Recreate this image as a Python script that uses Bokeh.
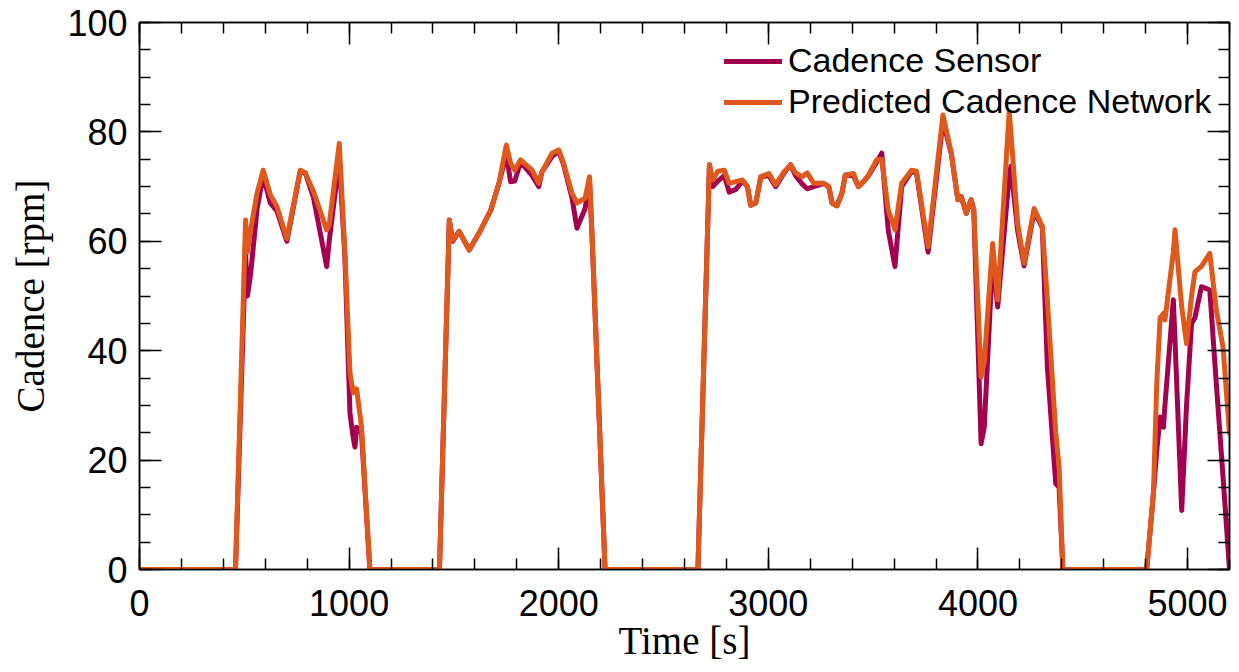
from bokeh.plotting import figure
from bokeh.models import (Range1d, LinearAxis, FixedTicker, Legend, LegendItem,
                          CustomJSTickFormatter)
from bokeh.embed import file_html
from bokeh.resources import INLINE

# ---- data ----
time_s = [0, 458, 506, 515, 530, 561, 590, 624, 656, 703, 767, 791, 830, 893, 905, 953,
          980, 1004, 1020, 1028, 1036, 1059, 1099,
          1431, 1478, 1494, 1525, 1573, 1620, 1676, 1715, 1750, 1770, 1790, 1818, 1873,
          1905, 1920, 1968, 2000, 2023, 2063, 2087, 2126, 2147, 2160, 2221,
          2664, 2719, 2735, 2759, 2790, 2813, 2845, 2877, 2900, 2916, 2940, 2964, 3003,
          3035, 3075, 3106, 3130, 3161, 3185, 3217, 3264, 3288, 3304, 3327, 3351, 3367,
          3406, 3430, 3454, 3478, 3517, 3541, 3572, 3604, 3636, 3683, 3707, 3762, 3833,
          3873, 3904, 3920, 3944, 3967, 3980, 4015, 4030, 4070, 4094, 4149, 4157, 4189,
          4220, 4268, 4307, 4331, 4371, 4387, 4405,
          4805, 4837, 4853, 4869, 4885, 4892, 4932, 4940, 4972, 4995, 5019, 5035, 5066,
          5106, 5137, 5169, 5200]

sensor_rpm = [0, 0, 58, 50, 54, 66, 72, 67, 65.5, 60, 72.8, 72.5, 68, 55.4, 60, 75,
              57, 28.6, 24, 22.4, 26, 25, 0,
              0, 63.9, 60, 61.8, 58.4, 61.5, 65.7, 70.6, 76, 70.9, 71, 74.5, 72,
              70, 72.7, 75.5, 76.5, 74, 68, 62.4, 66, 71, 60, 0,
              0, 74, 70, 71, 72, 69, 69.5, 71, 70, 66.6, 67, 71.8, 72,
              70, 72.5, 74, 72, 70.5, 69.6, 70, 70.6, 70, 67, 66.5, 68.8, 72.1,
              72, 70, 70.9, 72, 74.5, 76.1, 62, 55.4, 70, 72.8, 72.5, 58, 82,
              76, 67.6, 68.2, 65.1, 67.6, 65.8, 23, 26, 57, 48, 72, 73.7, 62,
              55.5, 65.5, 62.5, 37.1, 15.7, 15, 0,
              0, 13.9, 21.8, 27.9, 26, 30, 49.3, 42, 10.8, 30, 45, 46, 51.7,
              51.1, 34, 17, 0]

predicted_rpm = [0, 0, 63.9, 58, 62, 68.8, 73, 68.5, 66.3, 60.5, 73, 72.5, 69.1, 62.1, 63, 77.9,
                 57.9, 36, 32.3, 33, 33, 26.1, 0,
                 0, 63.9, 60.2, 61.8, 58.4, 61.5, 65.7, 70.6, 77.6, 74.3, 73, 74.9, 73,
                 70.6, 72.7, 76.1, 76.7, 74.3, 68.8, 67, 67.9, 71.8, 60, 0,
                 0, 74, 71.2, 72.8, 73, 70.6, 70.9, 71.2, 70, 66.6, 67, 71.8, 72.4,
                 70.3, 72.7, 74, 72.5, 71.8, 72.5, 70.6, 70.6, 70, 67, 66.5, 68.8, 72.1,
                 72.4, 70, 70.9, 72.1, 74.9, 75, 65.7, 62.1, 70.6, 73, 72.8, 59, 83.1,
                 76.1, 67.6, 68.2, 65.1, 67.6, 65.8, 35.2, 38, 59.6, 49.3, 83.7, 80, 63.3,
                 56, 66, 62.7, 49.3, 25, 18.8, 0,
                 0, 13.9, 34, 46, 46.8, 45.6, 58, 62.1, 48, 41.3, 50, 54.4, 55.4,
                 57.8, 47.4, 40.7, 24.9]

x_ticks = [0, 1000, 2000, 3000, 4000, 5000]
y_ticks = [0, 20, 40, 60, 80, 100]
series_labels = ["Cadence Sensor", "Predicted Cadence Network"]
series_colors = ["#A3024F", "#DF591C"]
x_title = "Time [s]"
y_title = "Cadence [rpm]"

SANS = "Liberation Sans"
SERIF = "Liberation Serif"

p = figure(width=1231, height=664, output_backend="svg", toolbar_location=None,
           x_range=Range1d(0, 5200), y_range=Range1d(0, 100),
           min_border_left=139, min_border_top=22, min_border_bottom=95, min_border_right=2)
p.background_fill_color = "white"
p.border_fill_color = "white"
p.outline_line_color = "black"
p.outline_line_width = 1.5
p.xgrid.visible = False
p.ygrid.visible = False

xt = FixedTicker(ticks=x_ticks, minor_ticks=list(range(0, 5201, 200)))
yt = FixedTicker(ticks=y_ticks, minor_ticks=list(range(0, 101, 5)))

def style_axis(ax, ticker, labels=True):
    ax.ticker = ticker
    ax.axis_line_color = "black"
    ax.axis_line_width = 1.5
    ax.major_tick_in = 22
    ax.major_tick_out = 0
    ax.minor_tick_in = 11
    ax.minor_tick_out = 0
    ax.major_tick_line_width = 1.5
    ax.minor_tick_line_width = 1.5
    ax.major_tick_line_color = "black"
    ax.minor_tick_line_color = "black"
    if labels:
        ax.major_label_text_font = SANS
        ax.major_label_text_font_size = "36px"
        ax.major_label_text_color = "black"
    else:
        ax.formatter = CustomJSTickFormatter(code="return '';")
        ax.major_label_standoff = 0

xa = p.xaxis[0]
style_axis(xa, xt)
xa.major_label_standoff = 20
xa.axis_label = x_title
xa.axis_label_text_font = SERIF
xa.axis_label_text_font_size = "39px"
xa.axis_label_text_font_style = "normal"
xa.axis_label_text_color = "black"
xa.axis_label_standoff = 0

ya = p.yaxis[0]
style_axis(ya, yt)
ya.major_label_standoff = 12
ya.axis_label = y_title
ya.axis_label_text_font = SERIF
ya.axis_label_text_font_size = "39px"
ya.axis_label_text_font_style = "normal"
ya.axis_label_text_color = "black"
ya.axis_label_standoff = 12

top_ax = LinearAxis()
style_axis(top_ax, xt, labels=False)
p.add_layout(top_ax, "above")
right_ax = LinearAxis()
style_axis(right_ax, yt, labels=False)
p.add_layout(right_ax, "right")

r_sensor = p.line(time_s, sensor_rpm, line_color=series_colors[0], line_width=5,
                  line_join="round", line_cap="round")
r_pred = p.line(time_s, predicted_rpm, line_color=series_colors[1], line_width=5,
                line_join="round", line_cap="round")

legend = Legend(items=[LegendItem(label=series_labels[0], renderers=[r_sensor]),
                       LegendItem(label=series_labels[1], renderers=[r_pred])],
                location=(585, 448))
legend.border_line_color = None
legend.background_fill_alpha = 0
legend.padding = 0
legend.margin = 0
legend.spacing = 2
legend.glyph_width = 58
legend.glyph_height = 38
legend.label_standoff = 6
legend.label_text_font = SANS
legend.label_text_font_size = "34px"
legend.label_text_color = "black"
legend.label_height = 38
p.add_layout(legend, "center")

open("out.html", "w").write(file_html(p, INLINE))
